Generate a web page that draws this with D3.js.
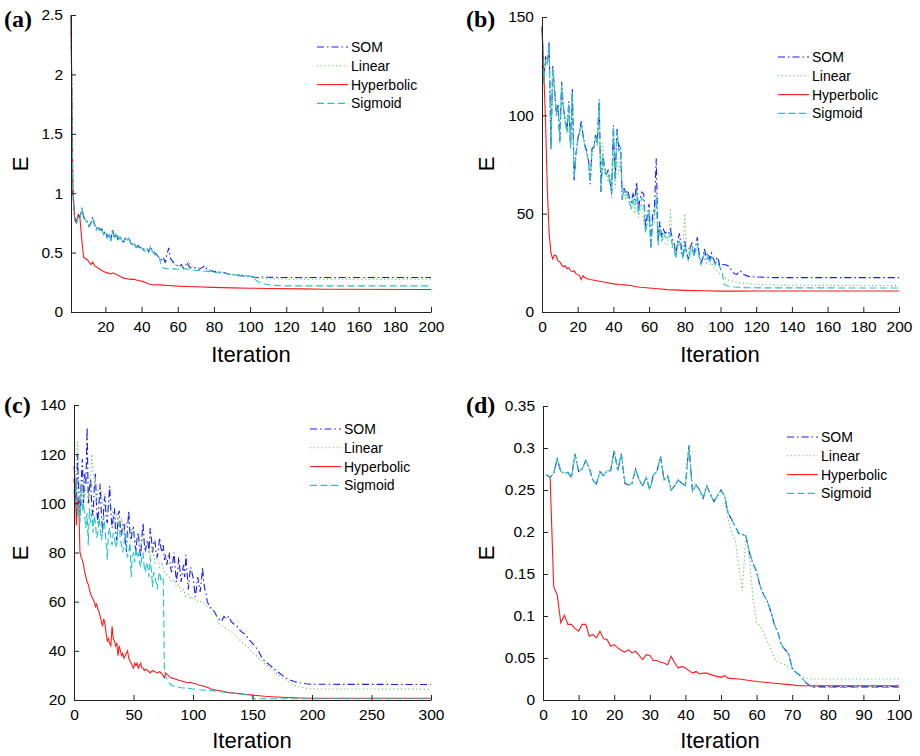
<!DOCTYPE html>
<html>
<head>
<meta charset="utf-8">
<script src="https://cdn.jsdelivr.net/npm/d3@7"></script>
<style>
  body { margin: 0; background: #fff; }
  svg text { font-family: "Liberation Sans", Arial, Helvetica, sans-serif; }
  .axis path, .axis line { stroke: #222; }
  .axis text { fill: #000; font-size: 15.5px; }
</style>
</head>
<body>
<div id="chart"></div>
<script>
// series names shared by all panels
var seriesNames = ["SOM", "Linear", "Hyperbolic", "Sigmoid"];

// ---- panel (a) ----
var aTicksX = [20, 40, 60, 80, 100, 120, 140, 160, 180, 200];
var aTicksY = [0, 0.5, 1, 1.5, 2, 2.5];
var aSom = [[1,2.5],[2,1.0],[3,0.78],[4,0.75],[5,0.82],[6,0.8],[7,0.87],[8,0.8],[9,0.78],[10,0.76],[11,0.72],[12,0.75],[13,0.8],[14,0.74],[15,0.7],[16,0.72],[17,0.69],[18,0.7],[19,0.66],[20,0.68],[21,0.63],[22,0.66],[23,0.6],[24,0.7],[25,0.62],[26,0.66],[27,0.61],[28,0.64],[29,0.6],[30,0.59],[31,0.62],[32,0.6],[33,0.63],[34,0.58],[35,0.57],[36,0.58],[37,0.54],[38,0.56],[39,0.54],[40,0.55],[41,0.53],[42,0.52],[43,0.53],[44,0.51],[45,0.55],[46,0.52],[47,0.5],[48,0.49],[49,0.47],[50,0.46],[51,0.44],[52,0.46],[53,0.42],[54,0.48],[55,0.54],[56,0.45],[57,0.43],[58,0.41],[59,0.4],[60,0.39],[61,0.38],[62,0.4],[63,0.37],[64,0.38],[65,0.42],[66,0.39],[67,0.37],[68,0.38],[70,0.37],[72,0.36],[74,0.38],[75,0.39],[76,0.36],[78,0.35],[80,0.34],[82,0.345],[84,0.33],[86,0.33],[88,0.32],[90,0.315],[92,0.31],[95,0.305],[98,0.3],[100,0.3],[103,0.29],[106,0.295],[110,0.292],[120,0.29],[200,0.29]];
var aLinear = [[1,2.5],[2,1.0],[3,0.8],[4,0.76],[5,0.83],[6,0.8],[7,0.86],[8,0.81],[9,0.78],[10,0.77],[11,0.73],[12,0.76],[13,0.79],[14,0.73],[15,0.71],[16,0.72],[17,0.7],[18,0.69],[19,0.66],[20,0.67],[22,0.65],[24,0.68],[26,0.65],[28,0.63],[30,0.6],[32,0.61],[34,0.58],[36,0.57],[38,0.55],[40,0.54],[42,0.53],[44,0.52],[46,0.52],[48,0.49],[50,0.46],[52,0.44],[54,0.43],[56,0.44],[58,0.4],[60,0.39],[62,0.38],[64,0.39],[66,0.43],[68,0.38],[70,0.37],[72,0.37],[74,0.37],[76,0.36],[78,0.35],[80,0.34],[84,0.33],[88,0.32],[92,0.31],[96,0.3],[100,0.295],[104,0.285],[110,0.28],[120,0.277],[200,0.277]];
var aHyper = [[1,2.5],[2,1.05],[3,0.8],[4,0.76],[5,0.82],[6,0.78],[7,0.6],[8,0.46],[9,0.45],[10,0.44],[11,0.42],[12,0.4],[13,0.42],[14,0.39],[15,0.38],[16,0.37],[18,0.35],[20,0.335],[22,0.325],[23,0.32],[24,0.33],[25,0.325],[26,0.315],[28,0.3],[30,0.285],[32,0.28],[34,0.275],[36,0.275],[38,0.265],[40,0.26],[42,0.25],[44,0.235],[46,0.23],[50,0.228],[55,0.223],[60,0.218],[65,0.215],[70,0.212],[80,0.207],[90,0.203],[100,0.2],[110,0.198],[130,0.195],[140,0.192],[200,0.19]];
var aSigmoid = [[1,2.5],[2,1.0],[3,0.77],[4,0.74],[5,0.81],[6,0.79],[7,0.88],[8,0.79],[9,0.77],[10,0.75],[11,0.72],[12,0.74],[13,0.79],[14,0.73],[15,0.69],[16,0.71],[17,0.68],[18,0.69],[19,0.65],[20,0.67],[21,0.62],[22,0.65],[23,0.6],[24,0.68],[25,0.62],[26,0.65],[27,0.6],[28,0.63],[29,0.6],[30,0.58],[31,0.62],[32,0.6],[33,0.62],[34,0.58],[35,0.56],[36,0.57],[37,0.54],[38,0.55],[39,0.53],[40,0.54],[41,0.52],[42,0.51],[43,0.52],[44,0.5],[45,0.55],[46,0.51],[47,0.49],[48,0.48],[49,0.46],[50,0.45],[51,0.38],[52,0.37],[54,0.365],[56,0.36],[58,0.365],[60,0.36],[62,0.36],[64,0.365],[66,0.36],[68,0.355],[70,0.35],[74,0.345],[78,0.34],[82,0.33],[86,0.325],[90,0.315],[94,0.31],[98,0.305],[101,0.3],[103,0.27],[105,0.25],[108,0.235],[112,0.225],[120,0.22],[200,0.22]];

// ---- panel (b) ----
var bTicksX = [0, 20, 40, 60, 80, 100, 120, 140, 160, 180, 200];
var bTicksY = [0, 50, 100, 150];
var bSom = [[0,145],[1,118],[2,130],[3,126],[4,137],[5,83],[6,125],[7,114],[8,100],[9,106],[10,87],[11,117],[12,104],[13,98],[14,92],[15,107],[16,84],[17,114],[18,67],[19,80],[20,88],[21,92],[22,97],[23,90],[24,85],[25,82],[26,78],[27,65],[28,83],[29,84],[30,90],[31,86],[32,108],[33,61],[34,80],[35,74],[36,70],[37,72],[38,67],[39,60],[40,95],[41,67],[42,93],[43,84],[44,85],[45,57],[46,63],[47,60],[48,62],[49,58],[50,56],[51,60],[52,57],[53,66],[54,52],[55,58],[56,61],[57,60],[58,43],[59,49],[60,55],[61,33],[62,50],[63,53],[64,78],[65,36],[66,46],[67,38],[68,42],[69,40],[70,41],[71,40],[72,42],[73,37],[74,35],[75,29],[76,36],[77,40],[78,33],[79,28],[80,36],[81,30],[82,27],[83,33],[84,35],[85,30],[86,33],[87,38],[88,30],[89,25],[90,27],[91,32],[92,28],[93,30],[94,27],[95,30],[96,27],[97,25],[98,28],[99,26],[100,22],[101,24],[103,24],[105,23],[107,20],[109,19],[111,21],[113,19],[116,18],[120,17.8],[130,17.5],[200,17.5]];
var bLinear = [[0,145],[1,117],[2,129],[3,125],[4,135],[5,84],[6,123],[7,112],[8,101],[9,104],[10,88],[11,115],[12,102],[13,97],[14,93],[15,105],[16,85],[17,111],[18,70],[19,80],[20,87],[22,95],[24,84],[26,77],[27,67],[28,80],[30,88],[31,84],[32,105],[33,65],[34,86],[35,70],[36,72],[37,66],[38,70],[39,58],[40,80],[41,63],[42,78],[43,70],[44,80],[45,58],[46,60],[47,57],[48,59],[49,55],[50,52],[51,56],[52,50],[53,58],[54,48],[55,52],[56,55],[57,46],[58,42],[59,44],[60,48],[61,38],[62,44],[63,45],[64,62],[65,38],[66,42],[67,40],[68,36],[69,35],[70,34],[71,38],[72,52],[73,32],[74,35],[75,30],[76,33],[77,36],[78,30],[79,34],[80,50],[81,30],[82,32],[83,28],[84,34],[85,29],[86,30],[87,33],[88,28],[89,26],[90,28],[91,27],[92,25],[93,27],[94,24],[95,25],[96,23],[97,22],[98,21],[99,20],[100,19],[102,17.5],[105,16],[110,15],[120,14],[140,13.6],[200,13.4]];
var bHyper = [[0,145],[1,122],[2,96],[3,62],[4,40],[5,30],[6,27],[7,29],[8,28.5],[9,26],[10,25.5],[11,24],[12,23],[13,23.5],[14,22],[15,22.5],[16,21],[17,20.5],[18,21],[19,19.5],[20,19],[21,18.5],[22,16.5],[23,18.5],[24,17.5],[25,17],[27,16.5],[30,16],[33,15.5],[36,15],[40,14.3],[43,14],[46,13.8],[50,13.5],[52,13],[55,12.6],[60,12.2],[65,11.8],[70,11.4],[80,11],[90,10.8],[100,10.6],[110,10.6],[120,10.7],[200,10.7]];
var bSigmoid = [[0,145],[1,116],[2,128],[3,127],[4,136],[5,82],[6,124],[7,113],[8,100],[9,105],[10,86],[11,116],[12,103],[13,97],[14,91],[15,106],[16,83],[17,112],[18,68],[19,79],[20,87],[21,91],[22,96],[23,89],[24,84],[25,81],[26,77],[27,66],[28,82],[29,83],[30,89],[31,85],[32,107],[33,62],[34,79],[35,73],[36,70],[37,71],[38,66],[39,61],[40,94],[41,67],[42,92],[43,82],[44,83],[45,57],[46,62],[47,59],[48,60],[49,56],[50,53],[51,57],[52,54],[53,62],[54,50],[55,55],[56,58],[57,57],[58,40],[59,46],[60,52],[61,32],[62,46],[63,50],[64,58],[65,34],[66,43],[67,36],[68,40],[69,38],[70,38],[71,37],[72,40],[73,34],[74,32],[75,27],[76,34],[77,37],[78,31],[79,27],[80,34],[81,29],[82,26],[83,31],[84,33],[85,28],[86,31],[87,35],[88,28],[89,24],[90,26],[91,30],[92,27],[93,28],[94,25],[95,28],[96,26],[97,24],[98,26],[99,24],[100,22],[101,20],[102,14],[104,13.2],[108,12.7],[115,12.3],[200,12.2]];

// ---- panel (c) ----
var cTicksX = [0, 50, 100, 150, 200, 250, 300];
var cTicksY = [20, 40, 60, 80, 100, 120, 140];
var cSom = [[0,110],[1,104],[2,100],[3,120],[4,104],[5,95],[6,108],[7,118],[8,100],[9,112],[10,108],[11,131],[12,100],[13,106],[14,110],[15,98],[16,95],[17,106],[18,112],[19,98],[20,92],[21,100],[22,108],[23,96],[24,88],[25,98],[26,103],[27,94],[28,92],[29,100],[30,107],[31,96],[32,90],[33,94],[34,98],[35,88],[36,85],[37,95],[38,97],[39,90],[40,87],[41,92],[42,92],[43,85],[44,80],[45,90],[46,97],[47,88],[48,85],[49,89],[50,90],[51,84],[52,80],[53,86],[54,88],[55,82],[56,78],[57,86],[58,92],[59,84],[60,80],[61,84],[62,85],[63,80],[64,90],[65,86],[66,80],[67,84],[68,85],[69,80],[70,78],[71,82],[72,86],[73,82],[74,80],[75,83],[76,77],[77,79],[78,75],[79,78],[80,80],[81,74],[82,72],[83,76],[84,80],[85,74],[86,68],[87,72],[88,78],[89,73],[90,68],[91,72],[92,75],[93,70],[94,79],[95,72],[96,65],[97,70],[98,74],[99,72],[100,70],[101,66],[102,62],[103,66],[104,70],[105,67],[106,64],[107,68],[108,74],[109,68],[110,65],[111,63],[112,60],[114,58],[116,57],[118,56],[120,54],[122,53],[124,52],[126,54],[128,53],[130,54],[132,52],[134,51],[137,50],[140,48],[143,47],[145,46],[148,44],[150,43],[152,42],[155,40],[158,37],[160,36],[165,34],[170,32],[175,30],[180,28.5],[185,27.5],[190,27],[195,26.6],[200,26.4],[300,26.3]];
var cLinear = [[0,105],[1,110],[2,118],[3,125],[4,112],[5,100],[6,108],[7,104],[8,110],[9,102],[10,106],[12,105],[13,100],[14,112],[15,120],[16,112],[17,110],[18,106],[19,100],[20,105],[22,108],[24,100],[26,104],[28,96],[30,100],[32,97],[34,92],[36,96],[38,90],[40,94],[42,88],[44,92],[46,86],[48,90],[50,88],[52,84],[54,88],[56,82],[58,86],[60,80],[62,84],[64,78],[66,82],[68,76],[70,78],[72,74],[74,76],[76,72],[78,71],[80,70],[82,68],[84,69],[86,66],[88,67],[90,64],[92,65],[94,62],[96,63],[98,61],[100,62],[104,60],[108,60],[112,58],[116,57],[120,54],[122,51],[125,50],[128,49],[132,48],[136,46],[140,44],[145,42],[150,39.5],[155,37],[160,35],[165,33],[170,31],[175,29],[180,27.5],[185,26],[190,25.2],[195,24.8],[200,24.5],[300,24.4]];
var cHyper = [[0,115],[1,108],[2,91],[3,102],[4,100],[5,80],[6,78],[7,77],[8,75],[9,72],[10,70],[11,68],[12,67],[13,65],[14,63],[15,62],[16,61],[17,60],[18,58],[19,59],[20,57],[21,56],[22,54],[23,52],[24,50],[25,53],[26,51],[27,47],[28,44],[29,45],[30,43],[31,42],[32,50],[33,45],[34,44],[35,42],[36,43],[37,38],[38,42],[39,40],[40,38],[41,39],[42,37],[43,38],[44,39],[45,40],[46,37],[47,36],[48,35],[49,34],[50,33],[51,35],[52,34],[53,35],[54,33],[55,34],[56,35],[57,33],[58,33],[59,32],[60,32.5],[62,32],[64,31],[66,32],[68,31.5],[70,31],[72,31.5],[74,30.5],[76,29],[77,31],[78,30.5],[80,29.5],[82,29],[85,28.5],[88,28],[90,27.8],[92,27.5],[95,27],[98,27.2],[100,26.8],[103,26.5],[105,26],[108,25.8],[110,25.5],[113,25],[115,24.5],[120,24],[125,23.5],[130,23],[135,22.8],[140,22.5],[150,22],[160,21.5],[170,21.2],[180,21],[190,20.8],[200,20.7],[300,20.7]];
var cSigmoid = [[0,105],[1,100],[2,110],[3,95],[4,100],[5,92],[6,105],[7,97],[8,100],[9,95],[10,90],[11,96],[12,83],[13,98],[14,92],[15,96],[16,88],[17,95],[18,92],[19,86],[20,88],[21,94],[22,90],[23,85],[24,88],[25,95],[26,90],[27,84],[28,77],[29,88],[30,90],[31,85],[32,83],[33,88],[34,86],[35,82],[36,84],[37,90],[38,92],[39,85],[40,83],[41,80],[42,84],[43,88],[44,82],[45,78],[46,80],[47,84],[48,70],[49,78],[50,80],[51,76],[52,82],[53,78],[54,80],[55,76],[56,74],[57,78],[58,80],[59,74],[60,72],[61,76],[62,74],[63,70],[64,78],[65,73],[66,66],[67,72],[68,70],[69,68],[70,65],[71,70],[72,72],[73,69],[74,70],[75,70],[76,31],[77,30],[78,28.5],[80,27],[82,26],[85,25.5],[90,25],[95,24.8],[100,24.5],[105,24.2],[110,24],[120,23.6],[130,23],[140,22.4],[148,22],[150,21.5],[151,20.5],[300,20.5]];

// ---- panel (d) ----
var dTicksX = [0, 10, 20, 30, 40, 50, 60, 70, 80, 90, 100];
var dTicksY = [0, 0.05, 0.1, 0.15, 0.2, 0.25, 0.3, 0.35];
var dSom = [[1,0.268],[2,0.265],[3,0.27],[4,0.287],[5,0.272],[6,0.27],[7,0.271],[8,0.265],[9,0.293],[10,0.272],[11,0.275],[12,0.285],[13,0.276],[14,0.262],[15,0.257],[16,0.272],[17,0.267],[18,0.273],[19,0.273],[20,0.297],[21,0.273],[22,0.293],[23,0.258],[24,0.256],[25,0.258],[26,0.275],[27,0.262],[28,0.255],[29,0.265],[30,0.25],[31,0.268],[32,0.272],[33,0.29],[34,0.262],[35,0.267],[36,0.25],[37,0.255],[38,0.262],[39,0.258],[40,0.255],[41,0.303],[42,0.248],[43,0.256],[44,0.25],[45,0.24],[46,0.255],[47,0.245],[48,0.236],[49,0.243],[50,0.25],[51,0.243],[52,0.222],[53,0.215],[54,0.207],[55,0.198],[56,0.197],[57,0.195],[58,0.175],[59,0.162],[60,0.153],[61,0.135],[62,0.125],[63,0.118],[64,0.105],[65,0.09],[66,0.08],[67,0.065],[68,0.06],[69,0.055],[70,0.038],[71,0.033],[72,0.03],[73,0.025],[74,0.02],[75,0.017],[76,0.016],[100,0.016]];
var dLinear = [[1,0.268],[2,0.265],[3,0.27],[4,0.286],[5,0.272],[6,0.27],[7,0.271],[8,0.265],[9,0.292],[10,0.272],[11,0.275],[12,0.285],[13,0.276],[14,0.262],[15,0.257],[16,0.272],[17,0.267],[18,0.273],[19,0.273],[20,0.296],[21,0.273],[22,0.292],[23,0.258],[24,0.256],[25,0.258],[26,0.275],[27,0.262],[28,0.255],[29,0.265],[30,0.25],[31,0.268],[32,0.272],[33,0.289],[34,0.262],[35,0.267],[36,0.25],[37,0.255],[38,0.262],[39,0.258],[40,0.255],[41,0.302],[42,0.248],[43,0.256],[44,0.25],[45,0.24],[46,0.255],[47,0.245],[48,0.236],[49,0.243],[50,0.25],[51,0.243],[52,0.215],[53,0.2],[54,0.19],[55,0.16],[56,0.13],[57,0.197],[58,0.17],[59,0.12],[60,0.092],[61,0.088],[62,0.08],[63,0.07],[64,0.062],[65,0.05],[66,0.045],[68,0.042],[70,0.036],[72,0.03],[74,0.026],[76,0.025],[100,0.025]];
var dHyper = [[1,0.268],[2,0.265],[3,0.135],[4,0.125],[5,0.092],[6,0.101],[7,0.09],[8,0.09],[9,0.085],[10,0.082],[11,0.09],[12,0.09],[13,0.076],[14,0.078],[15,0.074],[16,0.082],[17,0.073],[18,0.072],[19,0.064],[20,0.066],[21,0.062],[22,0.059],[23,0.057],[24,0.06],[25,0.056],[26,0.058],[27,0.053],[28,0.048],[29,0.054],[30,0.053],[31,0.047],[32,0.047],[33,0.045],[34,0.044],[35,0.042],[36,0.052],[37,0.044],[38,0.038],[39,0.04],[40,0.038],[41,0.035],[42,0.032],[43,0.034],[44,0.031],[45,0.032],[46,0.032],[48,0.029],[50,0.027],[51,0.029],[52,0.026],[55,0.025],[60,0.022],[65,0.02],[70,0.018],[72,0.017],[100,0.017]];
var dSigmoid = [[1,0.268],[2,0.265],[3,0.27],[4,0.287],[5,0.272],[6,0.27],[7,0.271],[8,0.265],[9,0.293],[10,0.272],[11,0.275],[12,0.285],[13,0.276],[14,0.262],[15,0.257],[16,0.272],[17,0.267],[18,0.273],[19,0.273],[20,0.297],[21,0.273],[22,0.293],[23,0.258],[24,0.256],[25,0.258],[26,0.275],[27,0.262],[28,0.255],[29,0.265],[30,0.25],[31,0.268],[32,0.272],[33,0.29],[34,0.262],[35,0.267],[36,0.25],[37,0.255],[38,0.262],[39,0.258],[40,0.255],[41,0.303],[42,0.248],[43,0.256],[44,0.25],[45,0.24],[46,0.255],[47,0.245],[48,0.236],[49,0.243],[50,0.25],[51,0.243],[52,0.223],[53,0.215],[54,0.207],[55,0.199],[56,0.197],[57,0.195],[58,0.176],[59,0.163],[60,0.153],[61,0.136],[62,0.125],[63,0.118],[64,0.106],[65,0.09],[66,0.08],[67,0.066],[68,0.06],[69,0.055],[70,0.038],[71,0.033],[72,0.03],[73,0.025],[74,0.02],[75,0.017],[76,0.015],[100,0.015]];

var width = 920, height = 756;

var styles = [
  { color: "#1a1aff", dash: "7,3,1.5,3" },   // SOM, dash-dot
  { color: "#6cc06c", dash: "1.2,2.6" },     // Linear, dotted
  { color: "#ff1a1a", dash: null },          // Hyperbolic, solid
  { color: "#1fc4c4", dash: "7,3.5" }        // Sigmoid, dashed
];

var panels = [
  { tag: "(a)", series: [aSom, aLinear, aHyper, aSigmoid], xDomain: [1, 200], yDomain: [0, 2.5],
    xRange: [71, 431], yRange: [312, 15], xTicks: aTicksX, yTicks: aTicksY,
    tagPos: [4, 27], ePos: [20, 164], iterPos: [251, 362], legend: [317, 47] },
  { tag: "(b)", series: [bSom, bLinear, bHyper, bSigmoid], xDomain: [0, 200], yDomain: [0, 150],
    xRange: [542, 899], yRange: [312, 17], xTicks: bTicksX, yTicks: bTicksY,
    tagPos: [466, 27], ePos: [486, 164], iterPos: [720, 362], legend: [778, 57] },
  { tag: "(c)", series: [cSom, cLinear, cHyper, cSigmoid], xDomain: [0, 300], yDomain: [20, 140],
    xRange: [74, 431], yRange: [700, 405], xTicks: cTicksX, yTicks: cTicksY,
    tagPos: [4, 413], ePos: [20, 553], iterPos: [252, 748], legend: [310, 429] },
  { tag: "(d)", series: [dSom, dLinear, dHyper, dSigmoid], xDomain: [0, 100], yDomain: [0, 0.35],
    xRange: [543, 899], yRange: [700, 406], xTicks: dTicksX, yTicks: dTicksY,
    tagPos: [466, 413], ePos: [486, 553], iterPos: [720, 748], legend: [787, 437] }
];

var svg = d3.select("#chart")
  .append("svg")
  .attr("width", width)
  .attr("height", height);

panels.forEach(function(p) {
  var x = d3.scaleLinear().domain(p.xDomain).range(p.xRange);
  var y = d3.scaleLinear().domain(p.yDomain).range(p.yRange);

  var g = svg.append("g");

  // lines first, axes drawn over them
  var line = d3.line()
    .x(function(d) { return x(d[0]); })
    .y(function(d) { return y(d[1]); });

  p.series.forEach(function(s, i) {
    g.append("path")
      .datum(s)
      .attr("d", line)
      .attr("fill", "none")
      .attr("stroke", styles[i].color)
      .attr("stroke-width", 1.1)
      .attr("stroke-dasharray", styles[i].dash);
  });

  // axes with inward ticks
  g.append("g")
    .attr("class", "axis")
    .attr("transform", "translate(0," + p.yRange[0] + ")")
    .call(d3.axisBottom(x).tickValues(p.xTicks).tickFormat(d3.format("~g"))
      .tickSizeInner(-5).tickSizeOuter(0).tickPadding(9));

  g.append("g")
    .attr("class", "axis")
    .attr("transform", "translate(" + p.xRange[0] + ",0)")
    .call(d3.axisLeft(y).tickValues(p.yTicks).tickFormat(d3.format("~g"))
      .tickSizeInner(-5).tickSizeOuter(0).tickPadding(8));

  // titles
  g.append("text")
    .attr("transform", "translate(" + p.ePos[0] + "," + p.ePos[1] + ") rotate(-90)")
    .attr("text-anchor", "middle")
    .attr("dy", "0.35em")
    .style("font-size", "22px")
    .text("E");

  g.append("text")
    .attr("x", p.iterPos[0])
    .attr("y", p.iterPos[1])
    .attr("text-anchor", "middle")
    .style("font-size", "22px")
    .text("Iteration");

  g.append("text")
    .attr("x", p.tagPos[0])
    .attr("y", p.tagPos[1])
    .style("font-family", "'Liberation Serif', 'Times New Roman', serif")
    .style("font-weight", "bold")
    .style("font-size", "24px")
    .text(p.tag);

  // legend
  var leg = g.append("g")
    .attr("transform", "translate(" + p.legend[0] + "," + p.legend[1] + ")");

  seriesNames.forEach(function(name, i) {
    var row = leg.append("g").attr("transform", "translate(0," + (i * 18.8) + ")");
    row.append("line")
      .attr("x1", 0).attr("x2", 31)
      .attr("y1", 0).attr("y2", 0)
      .attr("stroke", styles[i].color)
      .attr("stroke-width", 1.1)
      .attr("stroke-dasharray", styles[i].dash);
    row.append("text")
      .attr("x", 34)
      .attr("y", 0)
      .attr("dy", "0.36em")
      .style("font-size", "14px")
      .text(name);
  });
});
</script>
</body>
</html>
